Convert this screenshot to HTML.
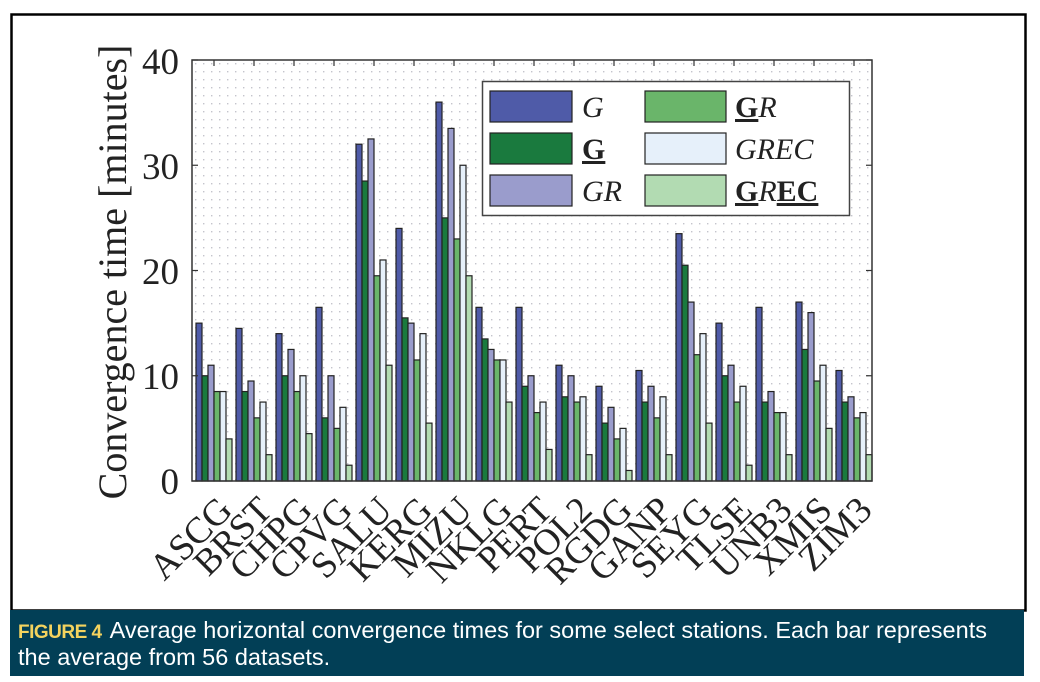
<!DOCTYPE html>
<html><head><meta charset="utf-8"><style>
body{margin:0;background:#fff;width:1040px;height:682px;overflow:hidden;position:relative;font-family:"Liberation Serif",serif}
#cap{position:absolute;left:10px;top:610px;width:1014px;height:66px;background:#023f56;color:#fff;font-family:"Liberation Sans",sans-serif;font-size:23.5px;line-height:25px;padding:8px 0 0 8px;box-sizing:border-box;white-space:nowrap}
#cap b{color:#f4d35e;font-weight:bold;font-size:19px;letter-spacing:-0.5px;margin-right:8px}
</style></head><body>
<svg width="1040" height="682" style="position:absolute;left:0;top:0">
<defs><pattern id="dots" x="192" y="60" width="8" height="8" patternUnits="userSpaceOnUse"><rect x="3" y="3" width="1.4" height="1.4" fill="#c4c4cc"/></pattern></defs>
<rect x="11.5" y="14.5" width="1014" height="596" fill="none" stroke="#000" stroke-width="2.5"/>
<rect x="192" y="60" width="680" height="421" fill="url(#dots)"/>
<g id="bars" stroke="#222" stroke-width="1.2"></g>
<rect x="192" y="60" width="680" height="421" fill="none" stroke="#333" stroke-width="1.5"/>
<g id="ticks" stroke="#333" stroke-width="1.2"></g>
<g font-size="37" fill="#222" text-anchor="end">
<text x="179" y="74">40</text><text x="179" y="179">30</text><text x="179" y="284">20</text><text x="179" y="389">10</text><text x="179" y="494">0</text>
</g>
<text transform="translate(126,272) rotate(-90)" font-size="40" fill="#222" text-anchor="middle">Convergence time [minutes]</text>
<g id="xl" font-size="37" fill="#222" text-anchor="end"></g>
<rect x="482.5" y="81.5" width="367" height="134" fill="#fff" stroke="#444" stroke-width="1.5"/>
<g stroke="#222" stroke-width="1.2">
<rect x="490" y="91" width="82" height="31" fill="#4f5ba8"/>
<rect x="490" y="133" width="82" height="31" fill="#1a7a3e"/>
<rect x="490" y="175" width="82" height="31" fill="#9a9ccc"/>
<rect x="645" y="91" width="81" height="31" fill="#6ab56a"/>
<rect x="645" y="133" width="81" height="31" fill="#e6f0fa"/>
<rect x="645" y="175" width="81" height="31" fill="#b2dbb2"/>
</g>
<g font-size="30" fill="#222">
<text x="582" y="117" font-style="italic">G</text>
<text x="582" y="159" font-weight="bold" text-decoration="underline">G</text>
<text x="582" y="201" font-style="italic">GR</text>
<text x="735" y="117"><tspan font-weight="bold" text-decoration="underline">G</tspan><tspan font-style="italic">R</tspan></text>
<text x="735" y="159" font-style="italic">GREC</text>
<text x="735" y="201"><tspan font-weight="bold" text-decoration="underline">G</tspan><tspan font-style="italic">R</tspan><tspan font-weight="bold" text-decoration="underline">EC</tspan></text>
</g>
</svg>
<div id="cap"><b>FIGURE 4</b>Average horizontal convergence times for some select stations. Each bar represents<br>the average from 56 datasets.</div>
<script>
var D=[["ASCG",15,10,11,8.5,8.5,4],["BRST",14.5,8.5,9.5,6,7.5,2.5],["CHPG",14,10,12.5,8.5,10,4.5],["CPVG",16.5,6,10,5,7,1.5],["SALU",32,28.5,32.5,19.5,21,11],["KERG",24,15.5,15,11.5,14,5.5],["MIZU",36,25,33.5,23,30,19.5],["NKLG",16.5,13.5,12.5,11.5,11.5,7.5],["PERT",16.5,9,10,6.5,7.5,3],["POL2",11,8,10,7.5,8,2.5],["RGDG",9,5.5,7,4,5,1],["GANP",10.5,7.5,9,6,8,2.5],["SEYG",23.5,20.5,17,12,14,5.5],["TLSE",15,10,11,7.5,9,1.5],["UNB3",16.5,7.5,8.5,6.5,6.5,2.5],["XMIS",17,12.5,16,9.5,11,5],["ZIM3",10.5,7.5,8,6,6.5,2.5]];
var C=["#4f5ba8","#1a7a3e","#9a9ccc","#6ab56a","#e6f0fa","#b2dbb2"];
var s=10.525,b="",t="",x="";
D.forEach(function(d,k){var x0=196+40*k;for(var i=0;i<6;i++){var h=d[i+1]*s;b+='<rect x="'+(x0+6*i)+'" y="'+(481-h)+'" width="6" height="'+h+'" fill="'+C[i]+'"/>';}
var c=214+40*k;t+='<line x1="'+c+'" y1="481" x2="'+c+'" y2="475"/><line x1="'+c+'" y1="60" x2="'+c+'" y2="66"/>';
x+='<text transform="translate('+(c+20)+',512) rotate(-45)">'+d[0]+'</text>';});
for(var v=0;v<=40;v+=10){var y=481-v*s;t+='<line x1="192" y1="'+y+'" x2="198" y2="'+y+'"/><line x1="866" y1="'+y+'" x2="872" y2="'+y+'"/>';}
document.getElementById("bars").innerHTML=b;document.getElementById("ticks").innerHTML=t;document.getElementById("xl").innerHTML=x;
</script>
</body></html>
